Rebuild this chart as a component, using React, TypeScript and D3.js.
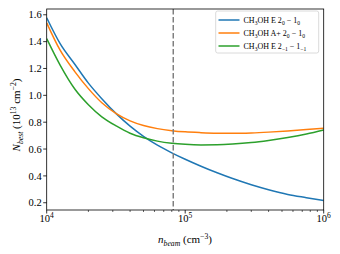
import React from "react";
import * as d3 from "d3";

const xValues = [10000, 12500, 16000, 20000, 25000, 32000, 40000, 50000, 63000, 80000, 100000, 130000, 170000, 220000, 300000, 400000, 550000, 750000, 1000000];
const blueValues = [1.578, 1.385, 1.23, 1.091, 0.975, 0.86, 0.771, 0.695, 0.629, 0.572, 0.524, 0.472, 0.423, 0.38, 0.334, 0.297, 0.262, 0.238, 0.217];
const orangeValues = [1.54, 1.336, 1.175, 1.05, 0.945, 0.862, 0.81, 0.775, 0.752, 0.737, 0.728, 0.722, 0.718, 0.717, 0.72, 0.726, 0.735, 0.745, 0.755];
const greenValues = [1.422, 1.225, 1.045, 0.93, 0.84, 0.77, 0.718, 0.684, 0.659, 0.643, 0.635, 0.631, 0.632, 0.637, 0.648, 0.664, 0.686, 0.712, 0.742];
const yTicks = [0.2, 0.4, 0.6, 0.8, 1.0, 1.2, 1.4, 1.6];
const xMajor = [4, 5, 6];
const nBeamLine = 82000;

const series = [
  { values: blueValues, color: "#1f77b4", label: ["CH", "3", "OH E 2", "0", " − 1", "0"] },
  { values: orangeValues, color: "#ff7f0e", label: ["CH", "3", "OH A+ 2", "0", " − 1", "0"] },
  { values: greenValues, color: "#2ca02c", label: ["CH", "3", "OH E 2", "−1", " − 1", "−1"] },
];

const L = 46.7, R = 323.7, T = 9, B = 210;
const font = "'Liberation Serif', 'DejaVu Serif', serif";

export default function App() {
  const x = d3.scaleLog().domain([1e4, 1e6]).range([L, R]);
  const y = d3.scaleLinear().domain([0.146, 1.643]).range([B, T]);
  const line = d3.line<number>().x((_, i) => x(xValues[i])).y((d) => y(d)).curve(d3.curveMonotoneX);
  const minor: number[] = [];
  for (const e of [4, 5]) for (let k = 2; k <= 9; k++) minor.push(k * Math.pow(10, e));

  return (
    <svg width={340} height={254} style={{ position: "absolute", left: 0, top: 0, background: "#fff" }} fontFamily={font}>
      <defs>
        <clipPath id="pa"><rect x={L} y={T} width={R - L} height={B - T} /></clipPath>
      </defs>
      <g clipPath="url(#pa)">
        {series.map((s, i) => (
          <path key={i} d={line(s.values) || ""} fill="none" stroke={s.color} strokeWidth={1.5} />
        ))}
        <line x1={x(nBeamLine)} x2={x(nBeamLine)} y1={T} y2={B} stroke="#7f7f7f" strokeWidth={1.5} strokeDasharray="5.5,2.5" />
      </g>
      <rect x={L} y={T} width={R - L} height={B - T} fill="none" stroke="#000" strokeWidth={0.8} />
      {yTicks.map((t) => (
        <g key={t}>
          <line x1={L - 3.5} x2={L} y1={y(t)} y2={y(t)} stroke="#000" strokeWidth={0.8} />
          <text x={L - 5} y={y(t) + 3.7} fontSize={10.5} textAnchor="end">{t.toFixed(1)}</text>
        </g>
      ))}
      {xMajor.map((e) => (
        <g key={e}>
          <line x1={x(Math.pow(10, e))} x2={x(Math.pow(10, e))} y1={B} y2={B + 3.5} stroke="#000" strokeWidth={0.8} />
          <text x={x(Math.pow(10, e))} y={222} fontSize={10.5} textAnchor="middle">
            10<tspan dy={-4.5} fontSize={7.5}>{e}</tspan>
          </text>
        </g>
      ))}
      {minor.map((m) => (
        <line key={m} x1={x(m)} x2={x(m)} y1={B} y2={B + 2} stroke="#000" strokeWidth={0.6} />
      ))}
      <text x={185} y={243} fontSize={11} textAnchor="middle">
        <tspan fontStyle="italic">n</tspan>
        <tspan fontStyle="italic" fontSize={7.7} dy={2.5}>beam</tspan>
        <tspan dy={-2.5}> (cm</tspan>
        <tspan fontSize={7.7} dy={-4.5}>−3</tspan>
        <tspan dy={4.5}>)</tspan>
      </text>
      <text transform="translate(20,115) rotate(-90)" fontSize={11} textAnchor="middle">
        <tspan fontStyle="italic">N</tspan>
        <tspan fontStyle="italic" fontSize={7.7} dy={2.5}>best</tspan>
        <tspan dy={-2.5}> (10</tspan>
        <tspan fontSize={7.7} dy={-4.5}>13</tspan>
        <tspan dy={4.5}> cm</tspan>
        <tspan fontSize={7.7} dy={-4.5}>−2</tspan>
        <tspan dy={4.5}>)</tspan>
      </text>
      <rect x={215.7} y={11} width={103} height={42} rx={2} fill="#fff" fillOpacity={0.8} stroke="#d0d0d0" strokeWidth={0.8} />
      {series.map((s, i) => {
        const yy = 20 + i * 13;
        return (
          <g key={i}>
            <line x1={218.5} x2={239.5} y1={yy} y2={yy} stroke={s.color} strokeWidth={1.5} />
            <text x={243.5} y={yy + 2.8} fontSize={8}>
              {s.label[0]}
              <tspan fontSize={5.6} dy={1.8}>{s.label[1]}</tspan>
              <tspan dy={-1.8}>{s.label[2]}</tspan>
              <tspan fontSize={5.6} dy={1.8}>{s.label[3]}</tspan>
              <tspan dy={-1.8}>{s.label[4]}</tspan>
              <tspan fontSize={5.6} dy={1.8}>{s.label[5]}</tspan>
            </text>
          </g>
        );
      })}
    </svg>
  );
}
